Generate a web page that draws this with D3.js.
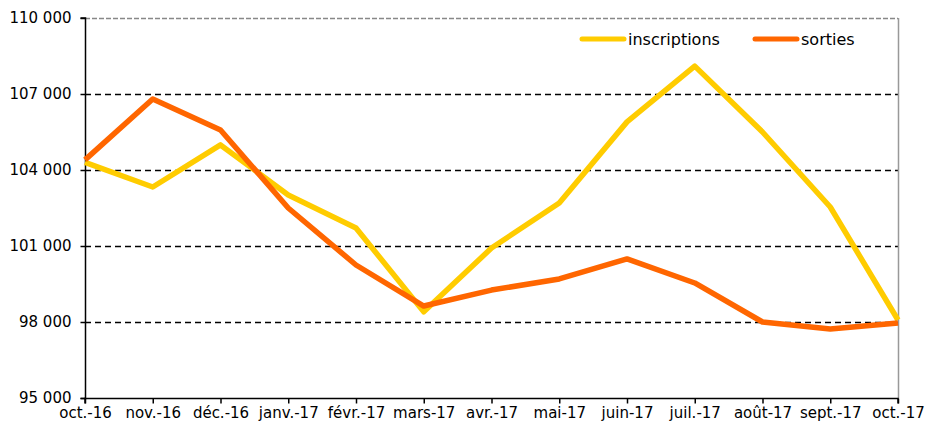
<!DOCTYPE html>
<html>
<head>
<meta charset="utf-8">
<script src="https://cdn.jsdelivr.net/npm/d3@7"></script>
<style>
  body { margin: 0; background: #fff; }
  text { font-family: "DejaVu Sans", sans-serif; fill: #000; }
</style>
</head>
<body>
<div class="chart"></div>
<script>
var months = ["oct.-16", "nov.-16", "déc.-16", "janv.-17", "févr.-17", "mars-17",
              "avr.-17", "mai-17", "juin-17", "juil.-17", "août-17", "sept.-17", "oct.-17"];
var inscriptions = [104300, 103330, 104990, 103010, 101710, 98400,
                    100920, 102700, 105900, 108100, 105500, 102540, 98080];
var sorties = [104400, 106800, 105580, 102500, 100250, 98630,
               99260, 99700, 100490, 99540, 98000, 97720, 97960];
var yTicks = [95000, 98000, 101000, 104000, 107000, 110000];

var width = 928;
var height = 428;
var plotLeft = 85, plotRight = 898, plotTop = 18, plotBottom = 398;

var svg = d3.select('.chart').append('svg')
            .attr('width', width)
            .attr('height', height);

var x = d3.scalePoint().domain(months).range([plotLeft, plotRight]);
var y = d3.scaleLinear().domain([95000, 110000]).range([plotBottom, plotTop]);

var fmt = function(v) { return d3.format(",")(v).replace(",", " "); };

// grid lines
svg.append('g').selectAll('line')
   .data(yTicks.slice(1, -1))
   .enter().append('line')
   .attr('x1', plotLeft).attr('x2', plotRight)
   .attr('y1', function(d) { return y(d) + 0.5; })
   .attr('y2', function(d) { return y(d) + 0.5; })
   .attr('stroke', '#000').attr('stroke-width', 1.5)
   .style('stroke-dasharray', '6, 4');

// top and right borders
svg.append('line').attr('x1', plotLeft).attr('x2', plotRight)
   .attr('y1', y(110000) + 0.5).attr('y2', y(110000) + 0.5)
   .attr('stroke', '#888').attr('stroke-width', 1.5)
   .style('stroke-dasharray', '5, 2');
svg.append('line').attr('x1', plotRight + 0.5).attr('x2', plotRight + 0.5)
   .attr('y1', plotTop).attr('y2', plotBottom)
   .attr('stroke', '#999').attr('stroke-width', 1.5);

var yAxis = d3.axisLeft(y).tickValues(yTicks).tickFormat(fmt).tickSize(5).tickPadding(9);
var xAxis = d3.axisBottom(x).tickSize(5).tickPadding(4);

var gy = svg.append('g').attr('class', 'y axis')
            .attr('transform', 'translate(' + (plotLeft + 0.5) + ',0)')
            .call(yAxis);
var gx = svg.append('g').attr('class', 'x axis')
            .attr('transform', 'translate(0,' + (plotBottom + 0.5) + ')')
            .call(xAxis);

gy.selectAll('text').style('font-size', '15px').attr('font-family', null);
gx.selectAll('text').style('font-size', '15px').attr('font-family', null);
svg.selectAll('.axis path, .axis line').attr('stroke', '#000').attr('stroke-width', 1.5);
gy.select('.domain').attr('d', 'M-5,' + plotTop + 'H0V' + (plotBottom + 0.5) + 'H-5');
gx.select('.domain').attr('d', 'M' + plotLeft + ',5V0H' + plotRight + 'V5');

var line = d3.line()
             .x(function(d, i) { return x(months[i]); })
             .y(function(d) { return y(d); });

svg.append('path').attr('class', 'inscriptions')
   .attr('d', line(inscriptions))
   .attr('fill', 'none').attr('stroke', '#FFCC00')
   .attr('stroke-width', 5.5).attr('stroke-linejoin', 'round');
svg.append('path').attr('class', 'sorties')
   .attr('d', line(sorties))
   .attr('fill', 'none').attr('stroke', '#FF6600')
   .attr('stroke-width', 5.5).attr('stroke-linejoin', 'round');

// legend
var legend = [
  { name: 'inscriptions', color: '#FFCC00', x: 580 },
  { name: 'sorties', color: '#FF6600', x: 753 }
];
var lg = svg.append('g').selectAll('g').data(legend).enter().append('g')
            .attr('transform', function(d) { return 'translate(' + d.x + ',39)'; });
lg.append('line').attr('x1', 2).attr('x2', 44)
  .attr('stroke', function(d) { return d.color; })
  .attr('stroke-width', 5).attr('stroke-linecap', 'round');
lg.append('text').attr('x', 48).attr('y', 6)
  .style('font-size', '16px')
  .text(function(d) { return d.name; });
</script>
</body>
</html>
